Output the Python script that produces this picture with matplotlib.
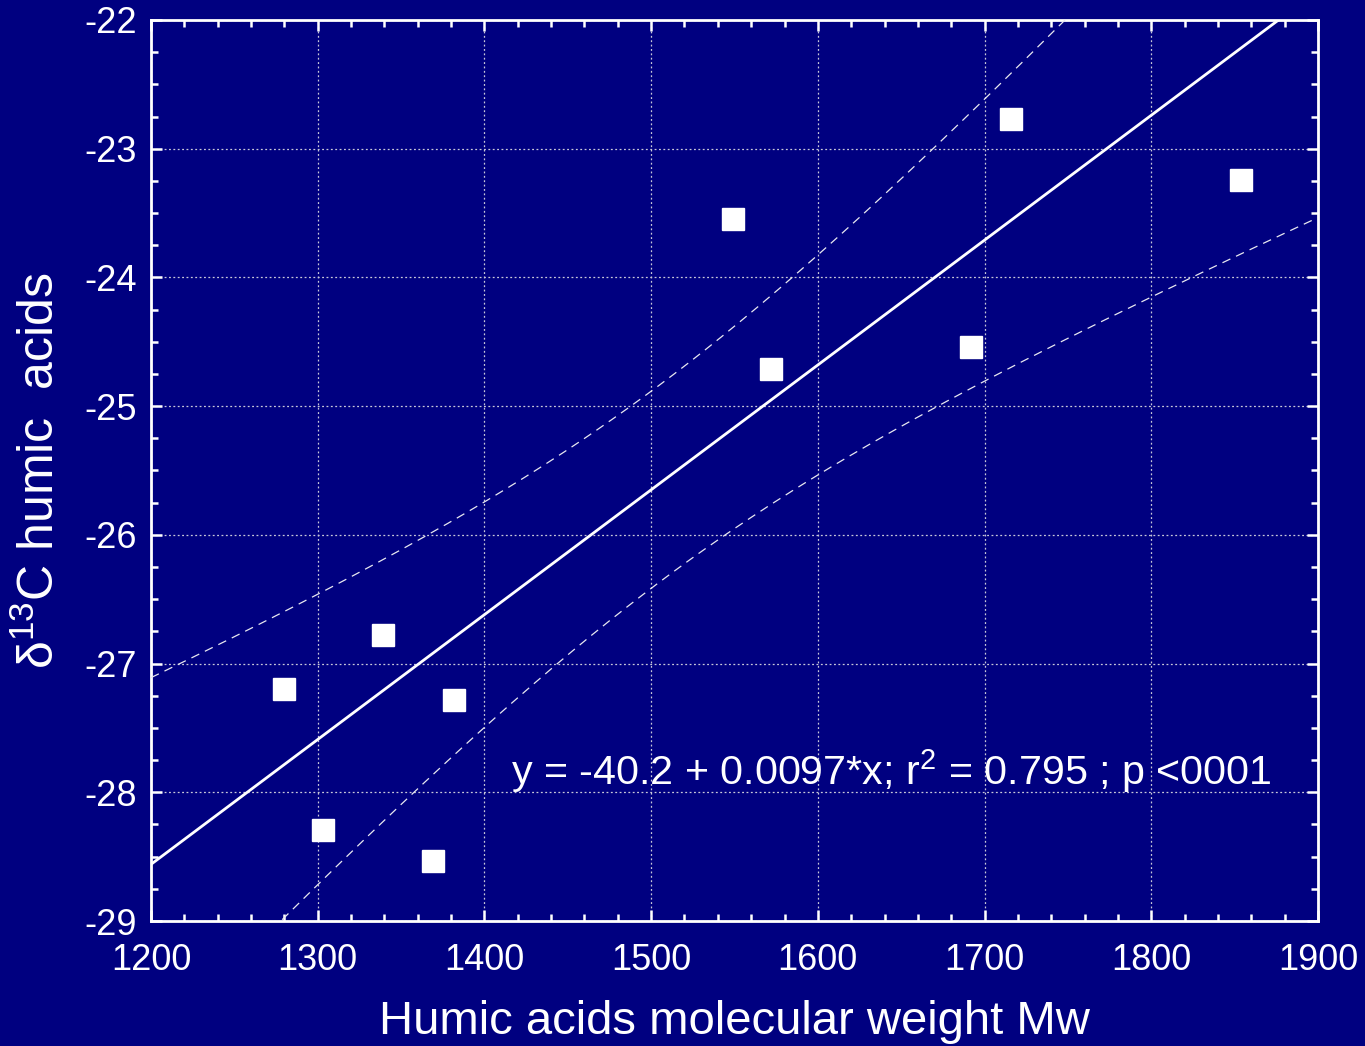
import numpy as np
import matplotlib.pyplot as plt
from matplotlib.ticker import MultipleLocator

plt.rcParams['font.family'] = ['Liberation Sans', 'DejaVu Sans']
plt.rcParams['mathtext.fontset'] = 'custom'
plt.rcParams['mathtext.rm'] = 'Liberation Sans'
plt.rcParams['mathtext.default'] = 'regular'
plt.rcParams['axes.unicode_minus'] = False

# molecular weight Mw and d13C of humic acids
mw = [1280, 1303, 1339, 1369, 1382, 1549, 1572, 1692, 1716, 1854]
d13c = [-27.20, -28.29, -26.78, -28.53, -27.28, -23.55, -24.71, -24.54, -22.77, -23.24]

# regression coefficients as reported
a = -40.2
b = 0.0097
eq_text = 'y = -40.2 + 0.0097*x; r$^{2}$ = 0.795 ; p <0001'

navy = '#000080'


def conf_band(x, y, xs, a, b):
    # 95% confidence band around the regression line
    x = np.asarray(x, float)
    y = np.asarray(y, float)
    n = len(x)
    res = y - (a + b * x)
    s = np.sqrt(np.sum(res ** 2) / (n - 2))
    sxx = np.sum((x - x.mean()) ** 2)
    t = 2.306  # t(0.975, 8)
    return t * s * np.sqrt(1.0 / n + (xs - x.mean()) ** 2 / sxx)


def main():
    fig = plt.figure(figsize=(13.65, 10.46), dpi=100, facecolor=navy)
    ax = fig.add_axes([0.1106, 0.1195, 0.855, 0.8614], facecolor=navy)

    xs = np.linspace(1200, 1900, 300)
    yfit = a + b * xs
    hw = conf_band(mw, d13c, xs, a, b)

    ax.plot(xs, yfit, color='white', lw=2.0, zorder=3)
    ax.plot(xs, yfit + hw, color='#e8e8f0', lw=0.9, ls=(0, (7, 5)), zorder=3)
    ax.plot(xs, yfit - hw, color='#e8e8f0', lw=0.9, ls=(0, (7, 5)), zorder=3)
    ax.plot(mw, d13c, 's', color='white', ms=16, mec='white', zorder=4)

    ax.text(1416, -27.94, eq_text, color='white', fontsize=29.7, va='baseline', ha='left')

    ax.set_xlim(1200, 1900)
    ax.set_ylim(-29, -22)
    ax.xaxis.set_major_locator(MultipleLocator(100))
    ax.xaxis.set_minor_locator(MultipleLocator(20))
    ax.yaxis.set_major_locator(MultipleLocator(1))
    ax.yaxis.set_minor_locator(MultipleLocator(0.25))
    ax.tick_params(which='both', direction='in', colors='white', top=True, right=True,
                   labelsize=26, width=1.8)
    ax.tick_params(which='major', length=8)
    ax.tick_params(which='minor', length=5)
    ax.tick_params(axis='x', which='major', pad=16)
    ax.tick_params(axis='y', which='major', pad=10)
    ax.grid(True, which='major', color='#c8c8d8', ls=(0, (1.5, 2)), lw=0.9)
    for sp in ax.spines.values():
        sp.set_color('white')
        sp.set_linewidth(2)

    ax.set_xlabel('Humic acids molecular weight Mw', color='white', fontsize=34, labelpad=16)
    ax.set_ylabel('δ$^{13}$C humic  acids', color='white', fontsize=36, labelpad=15)

    fig.savefig('out.png', dpi=100, facecolor=navy)


if __name__ == "__main__":
    main()
